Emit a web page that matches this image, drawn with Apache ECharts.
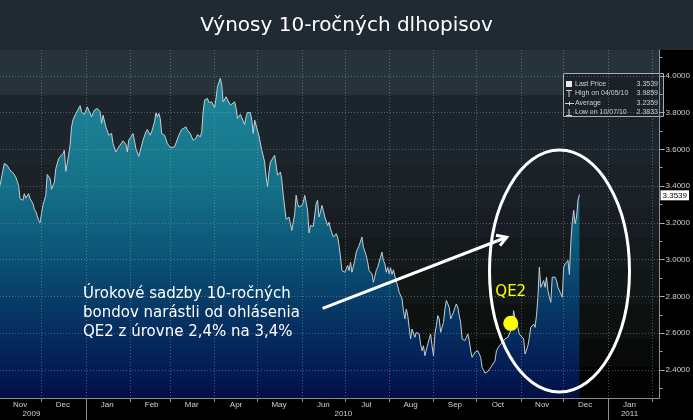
<!DOCTYPE html>
<html><head><meta charset="utf-8">
<script src="https://cdn.jsdelivr.net/npm/echarts@6/dist/echarts.min.js"></script>
<style>html,body{margin:0;padding:0;background:#000}#c{width:693px;height:420px}</style>
</head><body><div id="c"></div>
<script>
// ---------- data ----------
const titleText = 'Výnosy 10-ročných dlhopisov';
const startDate = '2009-11-02';
const endDate = '2011-02-06';
const monthNames = ['Jan','Feb','Mar','Apr','May','Jun','Jul','Aug','Sep','Oct','Nov','Dec'];
const yTickLabels = [2.4, 2.6, 2.8, 3.0, 3.2, 3.4, 3.6, 3.8, 4.0];
const yMinorTicks = [2.3, 2.4, 2.5, 2.6, 2.7, 2.8, 2.9, 3.0, 3.1, 3.2, 3.3, 3.4, 3.5, 3.6, 3.7, 3.8, 3.9, 4.0, 4.1];
const yearLabelDates = ['2009-11-24', '2010-06-30', '2011-01-16'];
const yearLabelTexts = ['2009', '2010', '2011'];

const dates = [
'2009-11-02','2009-11-05','2009-11-07','2009-11-09','2009-11-11','2009-11-12','2009-11-13','2009-11-15','2009-11-16','2009-11-18',
'2009-11-19','2009-11-20','2009-11-22','2009-11-23','2009-11-25','2009-11-26','2009-11-27','2009-11-29','2009-11-30',
'2009-12-01','2009-12-02','2009-12-04','2009-12-05','2009-12-07','2009-12-08','2009-12-10','2009-12-11','2009-12-13','2009-12-14',
'2009-12-16','2009-12-17','2009-12-18','2009-12-19','2009-12-21','2009-12-22','2009-12-23','2009-12-25','2009-12-26','2009-12-28',
'2009-12-29','2009-12-31',
'2010-01-02','2010-01-03','2010-01-05','2010-01-07','2010-01-09','2010-01-11','2010-01-12','2010-01-13','2010-01-15','2010-01-17',
'2010-01-19','2010-01-20','2010-01-22','2010-01-24','2010-01-25','2010-01-27','2010-01-29','2010-01-30','2010-01-31',
'2010-02-01','2010-02-03','2010-02-05','2010-02-07','2010-02-08','2010-02-10','2010-02-12','2010-02-13','2010-02-15','2010-02-16',
'2010-02-18','2010-02-19','2010-02-20','2010-02-21','2010-02-22','2010-02-23','2010-02-25','2010-02-27',
'2010-03-01','2010-03-02','2010-03-04','2010-03-05','2010-03-07','2010-03-09','2010-03-10','2010-03-12','2010-03-13','2010-03-15',
'2010-03-17','2010-03-19','2010-03-20','2010-03-22','2010-03-23','2010-03-24','2010-03-25','2010-03-27','2010-03-28','2010-03-29',
'2010-03-30',
'2010-04-01','2010-04-02','2010-04-03','2010-04-05','2010-04-06','2010-04-07','2010-04-09','2010-04-10','2010-04-12','2010-04-13',
'2010-04-15','2010-04-16','2010-04-17','2010-04-19','2010-04-20','2010-04-22','2010-04-23','2010-04-24','2010-04-26','2010-04-27',
'2010-04-28','2010-04-29','2010-04-30',
'2010-05-02','2010-05-03','2010-05-04','2010-05-06','2010-05-07','2010-05-08','2010-05-09','2010-05-10','2010-05-11','2010-05-13',
'2010-05-14','2010-05-15','2010-05-17','2010-05-18','2010-05-19','2010-05-20','2010-05-21','2010-05-23','2010-05-24','2010-05-25',
'2010-05-27','2010-05-28','2010-05-29','2010-05-30',
'2010-06-01','2010-06-02','2010-06-03','2010-06-04','2010-06-05','2010-06-06','2010-06-07','2010-06-09','2010-06-11','2010-06-12',
'2010-06-13','2010-06-14','2010-06-15','2010-06-16','2010-06-17','2010-06-19','2010-06-20','2010-06-21','2010-06-23','2010-06-24',
'2010-06-25','2010-06-26','2010-06-27','2010-06-28','2010-06-29',
'2010-07-01','2010-07-02','2010-07-03','2010-07-04','2010-07-05','2010-07-06','2010-07-08','2010-07-09','2010-07-10','2010-07-11',
'2010-07-12','2010-07-13','2010-07-14','2010-07-16','2010-07-17','2010-07-18','2010-07-19','2010-07-20','2010-07-21','2010-07-23',
'2010-07-24','2010-07-25','2010-07-26','2010-07-27','2010-07-28','2010-07-29','2010-07-30','2010-07-31',
'2010-08-01','2010-08-02','2010-08-03','2010-08-04','2010-08-05','2010-08-07','2010-08-08','2010-08-09','2010-08-10','2010-08-11',
'2010-08-12','2010-08-13','2010-08-14','2010-08-15','2010-08-16','2010-08-17','2010-08-18','2010-08-19','2010-08-20','2010-08-22',
'2010-08-23','2010-08-24','2010-08-25','2010-08-26','2010-08-28','2010-08-29','2010-08-30','2010-08-31',
'2010-09-01','2010-09-02','2010-09-03','2010-09-04','2010-09-05','2010-09-06','2010-09-08','2010-09-09','2010-09-10','2010-09-11',
'2010-09-12','2010-09-13','2010-09-15','2010-09-16','2010-09-17','2010-09-18','2010-09-19','2010-09-20','2010-09-21','2010-09-23',
'2010-09-24','2010-09-25','2010-09-26','2010-09-27','2010-09-28','2010-09-30',
'2010-10-01','2010-10-02','2010-10-03','2010-10-04','2010-10-05','2010-10-06','2010-10-07','2010-10-09','2010-10-10','2010-10-11',
'2010-10-12','2010-10-14','2010-10-15','2010-10-17','2010-10-19','2010-10-21','2010-10-23','2010-10-24','2010-10-26','2010-10-27',
'2010-10-28','2010-10-30','2010-10-31',
'2010-11-01','2010-11-03','2010-11-04','2010-11-06','2010-11-07','2010-11-08','2010-11-10','2010-11-11','2010-11-12','2010-11-13',
'2010-11-14','2010-11-15','2010-11-17','2010-11-18','2010-11-19','2010-11-20','2010-11-21','2010-11-22','2010-11-23','2010-11-25',
'2010-11-26','2010-11-27','2010-11-28','2010-11-29','2010-11-30',
'2010-12-01','2010-12-02','2010-12-03','2010-12-04','2010-12-05','2010-12-06','2010-12-07','2010-12-08','2010-12-09','2010-12-10',
'2010-12-11','2010-12-12'
];
const yields = [
3.404,3.523,3.513,3.486,3.473,3.48,3.45,3.404,3.332,3.323,
3.359,3.335,3.359,3.332,3.305,3.274,3.263,3.214,3.201,
3.25,3.295,3.35,3.463,3.441,3.383,3.422,3.495,3.55,3.553,
3.577,3.595,3.48,3.523,3.622,3.722,3.759,3.795,3.808,3.837,
3.804,3.79,
3.831,3.826,3.777,3.813,3.822,3.804,3.741,3.786,3.722,3.677,
3.686,3.632,3.586,3.613,3.622,3.646,3.628,3.586,3.65,
3.64,3.686,3.604,3.562,3.562,3.65,3.695,3.708,3.677,3.695,
3.749,3.798,3.777,3.795,3.768,3.686,3.677,3.632,
3.61,3.604,3.613,3.604,3.677,3.708,3.70,3.722,3.704,3.686,
3.65,3.66,3.68,3.668,3.695,3.804,3.868,3.877,3.855,3.862,
3.858,
3.826,3.877,3.94,3.9859,3.949,3.858,3.886,3.877,3.84,3.831,
3.858,3.826,3.768,3.79,3.795,3.735,3.777,3.80,3.80,3.759,
3.686,3.759,3.731,
3.673,3.681,3.595,3.531,3.45,3.395,3.477,3.531,3.523,3.568,
3.513,3.459,3.477,3.432,3.35,3.359,3.219,3.232,3.196,3.159,
3.25,3.35,3.305,3.286,
3.295,3.313,3.35,3.359,3.268,3.145,3.186,3.181,3.305,3.323,
3.232,3.259,3.295,3.268,3.232,3.186,3.204,3.168,3.123,3.132,
3.141,3.123,3.077,3.014,2.941,
2.932,2.95,2.968,2.941,2.986,2.932,2.996,3.041,3.059,3.077,
3.087,3.123,3.068,3.023,2.986,2.941,2.95,2.923,2.877,2.941,
2.959,2.986,3.014,3.041,2.996,2.977,2.932,2.959,
2.923,2.956,2.92,2.945,2.91,2.855,2.823,2.814,2.787,2.723,
2.678,2.732,2.696,2.632,2.569,2.623,2.629,2.578,2.605,2.596,
2.542,2.505,2.532,2.478,2.542,2.569,2.596,2.532,
2.478,2.596,2.641,2.696,2.678,2.605,2.659,2.732,2.778,2.787,
2.741,2.678,2.714,2.741,2.759,2.741,2.696,2.659,2.569,2.56,
2.578,2.596,2.56,2.505,2.469,2.496,
2.505,2.505,2.487,2.469,2.414,2.40,2.3833,2.392,2.387,2.414,
2.423,2.45,2.505,2.532,2.55,2.569,2.578,2.596,2.632,2.723,
2.678,2.632,2.596,
2.605,2.569,2.487,2.532,2.578,2.632,2.65,2.632,2.696,2.796,
2.959,2.85,2.886,2.85,2.905,2.832,2.796,2.768,2.905,2.905,
2.886,2.85,2.841,2.814,2.796,
2.959,2.977,2.986,2.996,2.92,3.095,3.204,3.268,3.196,3.232,
3.323,3.3539
];

const lastPrice = 3.3539;
const highValue = 3.9859, highDate = '04/05/10';
const averageValue = 3.2359;
const lowValue = 2.3833, lowDate = '10/07/10';
const qe2Date = '2010-10-25', qe2Level = 2.654, qe2LabelLevel = 2.824;
const annotationLines = ['Úrokové sadzby 10-ročných', 'bondov narástli od ohlásenia', 'QE2 z úrovne 2,4% na 3,4%'];

// ---------- build ----------
const DAY = 86400000;
const days = [];
for (let t = Date.parse(startDate + 'T00:00:00Z'); t <= Date.parse(endDate + 'T00:00:00Z'); t += DAY) {
  days.push(new Date(t).toISOString().slice(0, 10));
}
const seriesData = dates.map((d, i) => [days.indexOf(d), yields[i]]);
const isMonthStart = (i, v) => v.slice(8) === '01';
const isMidMonth = (i, v) => v.slice(8) === '16';
const isYearStart = (i, v) => v.slice(5) === '01-01';

const bgBands = [['#27333b',0.13],['#1d252c',0.33],['#1a2127',0.45],['#171d22',0.54],['#141a1c',0.63],['#111616',0.73],['#0d1110',0.83],['#080a0a',0.91],['#030303',1]];
const bgStops = [];
let prev = 0;
bgBands.forEach(([c, o]) => { bgStops.push({offset: prev, color: c}, {offset: o, color: c}); prev = o; });

const fillStops = [
  {offset: 0, color: '#1d879c'}, {offset: 0.07, color: '#1b8298'}, {offset: 0.22, color: '#187a8f'},
  {offset: 0.35, color: '#136f86'}, {offset: 0.44, color: '#0f6480'}, {offset: 0.55, color: '#0b5577'},
  {offset: 0.69, color: '#073d68'}, {offset: 0.82, color: '#05295d'}, {offset: 0.93, color: '#031a52'},
  {offset: 1, color: '#020f45'}
];

const gridLine = {color: 'rgba(160,170,180,0.45)', width: 1, type: [1, 2]};
const axisGray = '#8a8f92';
const labelFont = 'Liberation Sans';
const txt = '#d0d0d0';
const lg = {fill: txt, fontSize: 7, fontFamily: labelFont, verticalAlign: 'middle'};

const chart = echarts.init(document.getElementById('c'));
chart.setOption({
  backgroundColor: '#000',
  animation: false,
  title: {
    text: titleText, left: 'center', top: 11,
    textStyle: {color: '#fff', fontSize: 20, fontWeight: 'normal', fontFamily: 'DejaVu Sans'}
  },
  grid: {
    left: 0, right: 29, top: 50, bottom: 22, show: true, borderWidth: 0,
    backgroundColor: {type: 'linear', x: 0, y: 0, x2: 0, y2: 1, colorStops: bgStops}
  },
  xAxis: [
    {
      type: 'category', data: days, boundaryGap: false, position: 'bottom', z: 3,
      axisLine: {show: true, lineStyle: {color: axisGray}},
      axisTick: {show: true, interval: isMonthStart, length: 4, lineStyle: {color: axisGray}},
      axisLabel: {interval: isMidMonth, formatter: v => monthNames[+v.slice(5, 7) - 1],
        color: txt, fontSize: 8, fontFamily: labelFont, margin: 3},
      splitLine: {show: true, interval: isMonthStart, lineStyle: gridLine}
    },
    {
      type: 'category', data: days, boundaryGap: false, position: 'bottom', z: 3,
      axisLine: {show: false},
      axisTick: {show: true, interval: isYearStart, length: 22, lineStyle: {color: axisGray}},
      axisLabel: {interval: (i, v) => yearLabelDates.indexOf(v) >= 0,
        formatter: v => yearLabelTexts[yearLabelDates.indexOf(v)] || '',
        color: txt, fontSize: 8, fontFamily: labelFont, margin: 12},
      splitLine: {show: false}
    }
  ],
  yAxis: [
    {
      type: 'value', position: 'right', min: 2.248, max: 4.14, minInterval: 0.2, maxInterval: 0.2, z: 3,
      axisLine: {show: true, lineStyle: {color: axisGray}},
      axisTick: {show: true, customValues: yTickLabels, length: 5, lineStyle: {color: '#c0c0c0'}},
      axisLabel: {customValues: yTickLabels, formatter: v => v.toFixed(4), color: txt,
        fontSize: 8, fontFamily: labelFont, margin: 6},
      splitLine: {show: true, lineStyle: gridLine}
    },
    {
      type: 'value', position: 'right', min: 2.248, max: 4.14, z: 3,
      axisLine: {show: false},
      axisTick: {show: true, customValues: yMinorTicks, length: 3, lineStyle: {color: '#a0a0a0'}},
      axisLabel: {show: false},
      splitLine: {show: false}
    }
  ],
  series: [{
    type: 'line', xAxisIndex: 0, yAxisIndex: 0, z: 1,
    data: seriesData, showSymbol: false, symbol: 'none',
    lineStyle: {color: '#c5ced4', width: 1},
    areaStyle: {origin: 'start', opacity: 1,
      color: {type: 'linear', x: 0, y: 0, x2: 0, y2: 1, colorStops: fillStops}},
    markLine: {
      silent: true, symbol: 'none', animation: false,
      lineStyle: {color: 'transparent', width: 0},
      label: {show: true, position: 'end', formatter: lastPrice.toFixed(4), color: '#000',
        backgroundColor: '#fff', fontSize: 8, fontFamily: labelFont, padding: [1, 2, 1, 2], distance: 1},
      data: [{yAxis: lastPrice}]
    },
    markPoint: {
      animation: false, silent: true,
      data: [
        {coord: [days.indexOf(qe2Date), qe2Level], symbol: 'circle', symbolSize: 15,
          itemStyle: {color: '#ffff00'}, label: {show: false}},
        {coord: [days.indexOf(qe2Date), qe2LabelLevel], symbol: 'circle', symbolSize: 1,
          itemStyle: {color: 'transparent'},
          label: {show: true, position: 'inside', formatter: 'QE2', color: '#ffff00',
            fontSize: 15, fontFamily: 'DejaVu Sans'}}
      ]
    }
  }],
  graphic: [
    {type: 'rect', silent: true, z: -10, shape: {x: 0, y: 0, width: 693, height: 50}, style: {fill: '#1f2a32'}},
    {type: 'group', z: 100, silent: true, children: [
      {type: 'rect', shape: {x: 563.5, y: 73.5, width: 100, height: 43}, style: {fill: '#1a2228', stroke: '#a7b0b4', lineWidth: 1}},
      {type: 'rect', shape: {x: 566, y: 81, width: 6, height: 6}, style: {fill: '#e8e8e8'}},
      {type: 'line', shape: {x1: 569, y1: 90, x2: 569, y2: 97}, style: {stroke: txt, lineWidth: 1}},
      {type: 'line', shape: {x1: 566, y1: 90.5, x2: 572, y2: 90.5}, style: {stroke: txt, lineWidth: 1}},
      {type: 'line', shape: {x1: 565, y1: 103.5, x2: 574, y2: 103.5}, style: {stroke: txt, lineWidth: 1}},
      {type: 'line', shape: {x1: 569.5, y1: 101.5, x2: 569.5, y2: 105.5}, style: {stroke: txt, lineWidth: 1}},
      {type: 'line', shape: {x1: 569, y1: 109, x2: 569, y2: 116}, style: {stroke: txt, lineWidth: 1}},
      {type: 'line', shape: {x1: 566, y1: 115.5, x2: 572, y2: 115.5}, style: {stroke: txt, lineWidth: 1}},
      {type: 'text', x: 575, y: 84, style: Object.assign({text: 'Last Price'}, lg)},
      {type: 'text', x: 575, y: 93.5, style: Object.assign({text: 'High on ' + highDate}, lg)},
      {type: 'text', x: 575, y: 103, style: Object.assign({text: 'Average'}, lg)},
      {type: 'text', x: 575, y: 112.5, style: Object.assign({text: 'Low on ' + lowDate}, lg)},
      {type: 'text', x: 658, y: 84, style: Object.assign({text: lastPrice.toFixed(4), align: 'right'}, lg)},
      {type: 'text', x: 658, y: 93.5, style: Object.assign({text: highValue.toFixed(4), align: 'right'}, lg)},
      {type: 'text', x: 658, y: 103, style: Object.assign({text: averageValue.toFixed(4), align: 'right'}, lg)},
      {type: 'text', x: 658, y: 112.5, style: Object.assign({text: lowValue.toFixed(4), align: 'right'}, lg)}
    ]},
    {type: 'text', z: 100, silent: true, x: 83, y: 285,
      style: {text: annotationLines.join('\n'), fill: '#fff', fontSize: 15, fontFamily: 'DejaVu Sans', lineHeight: 19}},
    {type: 'line', z: 100, silent: true, shape: {x1: 322.7, y1: 308.3, x2: 506, y2: 237.5}, style: {stroke: '#fff', lineWidth: 3}},
    {type: 'polyline', z: 100, silent: true, shape: {points: [[496, 235.3], [506.7, 237.3], [500, 245.6]]}, style: {stroke: '#fff', lineWidth: 3, fill: null}},
    {type: 'ellipse', z: 100, silent: true, shape: {cx: 559.5, cy: 271, rx: 70, ry: 121}, style: {stroke: '#fff', lineWidth: 3, fill: null}}
  ]
});
</script>
</body></html>
